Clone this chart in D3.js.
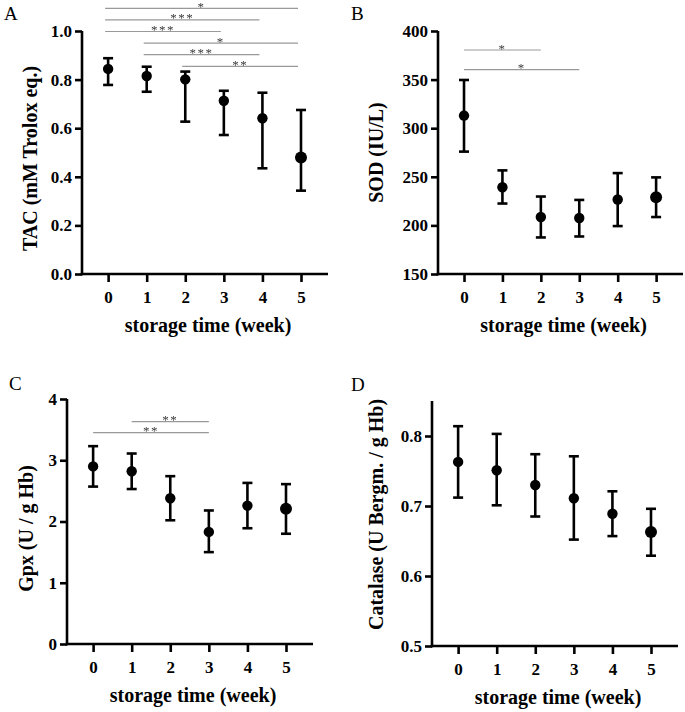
<!DOCTYPE html>
<html><head><meta charset="utf-8">
<script src="https://cdn.jsdelivr.net/npm/d3@7"></script>
<style>
html,body{margin:0;padding:0;background:#fff;}
svg{display:block;}
text{font-family:"Liberation Serif","Times New Roman",serif;}
.sig{filter:grayscale(1);}
</style></head>
<body>
<svg id="chart" width="685" height="712"></svg>
<script>
// ---------- data ----------
const weeks = [0, 1, 2, 3, 4, 5];

const tacMean  = [0.844, 0.815, 0.801, 0.713, 0.641, 0.479];
const tacUpper = [0.888, 0.853, 0.833, 0.754, 0.746, 0.675];
const tacLower = [0.778, 0.750, 0.627, 0.572, 0.435, 0.343];
const tacTicks = [0.0, 0.2, 0.4, 0.6, 0.8, 1.0];
const tacSig = [[0, 5, "*"], [0, 4, "***"], [0, 3, "***"], [1, 5, "*"], [1, 4, "***"], [2, 5, "**"]];

const sodMean  = [313.0, 239.3, 208.6, 207.6, 226.6, 229.0];
const sodUpper = [349.6, 256.6, 229.7, 226.2, 253.8, 249.4];
const sodLower = [275.9, 222.5, 187.6, 188.6, 199.3, 208.6];
const sodTicks = [150, 200, 250, 300, 350, 400];
const sodSig = [[0, 2, "*"], [0, 3, "*"]];

const gpxMean  = [2.90, 2.82, 2.38, 1.83, 2.26, 2.21];
const gpxUpper = [3.23, 3.11, 2.74, 2.18, 2.63, 2.61];
const gpxLower = [2.57, 2.53, 2.02, 1.50, 1.89, 1.80];
const gpxTicks = [0, 1, 2, 3, 4];
const gpxSig = [[1, 3, "**"], [0, 3, "**"]];

const catMean  = [0.763, 0.751, 0.730, 0.711, 0.689, 0.663];
const catUpper = [0.814, 0.803, 0.774, 0.771, 0.721, 0.696];
const catLower = [0.712, 0.701, 0.685, 0.652, 0.657, 0.629];
const catTicks = [0.5, 0.6, 0.7, 0.8];

const xTitle = "storage time (week)";

// ---------- layout ----------
const panels = [
  {letter: "A", lx: 4, ly: 20, x0: 82, x1: 328, yb: 274, yt: 31, dom: [0, 1.0],
   mean: tacMean, up: tacUpper, lo: tacLower, ticks: tacTicks, fmt: d3.format(".1f"),
   title: "TAC (mM Trolox eq.)", tx: 37, tyOff: 6, sig: tacSig, sigY: 8.3, sigGap: 11.6, sigShift: -3},
  {letter: "B", lx: 351, ly: 20, x0: 438, x1: 683, yb: 274, yt: 31, dom: [150, 400],
   mean: sodMean, up: sodUpper, lo: sodLower, ticks: sodTicks, fmt: d3.format("d"),
   title: "SOD (IU/L)", tx: 383, tyOff: 0, sig: sodSig, sigY: 50, sigGap: 19.7, sigShift: 0},
  {letter: "C", lx: 9, ly: 390, x0: 67, x1: 313, yb: 644, yt: 399, dom: [0, 4],
   mean: gpxMean, up: gpxUpper, lo: gpxLower, ticks: gpxTicks, fmt: d3.format("d"),
   title: "Gpx (U / g Hb)", tx: 33, tyOff: 7, sig: gpxSig, sigY: 421.7, sigGap: 11, sigShift: 0},
  {letter: "D", lx: 351, ly: 391, x0: 432, x1: 678, yb: 646, yt: 401, dom: [0.5, 0.85],
   mean: catMean, up: catUpper, lo: catLower, ticks: catTicks, fmt: d3.format(".1f"),
   title: "Catalase (U Bergm. / g Hb)", tx: 383, tyOff: -9, sig: [], sigY: 0, sigGap: 0, sigShift: 0}
];

const svg = d3.select("#chart");
const AXW = 2.6;

panels.forEach(p => {
  const g = svg.append("g");
  const x = d3.scaleLinear().domain([-0.677, 5.7]).range([p.x0, p.x1]);
  const y = d3.scaleLinear().domain(p.dom).range([p.yb, p.yt]);

  // panel letter
  g.append("text").attr("x", p.lx).attr("y", p.ly)
    .attr("font-size", 19).attr("fill", "#000").text(p.letter);

  // y axis
  const ya = g.append("g").attr("transform", `translate(${p.x0},0)`)
    .call(d3.axisLeft(y).tickValues(p.ticks).tickFormat(p.fmt).tickSize(7).tickPadding(3));
  ya.select(".domain").attr("stroke", "#000").attr("stroke-width", AXW)
    .attr("d", `M0,${p.yb + AXW/2}V${p.yt}`);
  ya.selectAll(".tick line").attr("stroke", "#000").attr("stroke-width", AXW);
  ya.selectAll(".tick text").attr("font-family", "Liberation Serif, serif")
    .attr("font-weight", "bold").attr("font-size", 17).attr("fill", "#000");

  // x axis
  const xa = g.append("g").attr("transform", `translate(0,${p.yb})`)
    .call(d3.axisBottom(x).tickValues(weeks).tickFormat(d3.format("d")).tickSize(8).tickPadding(9));
  xa.select(".domain").attr("stroke", "#000").attr("stroke-width", AXW)
    .attr("d", `M${p.x0 - AXW/2},0H${p.x1}`);
  xa.selectAll(".tick line").attr("stroke", "#000").attr("stroke-width", AXW);
  xa.selectAll(".tick text").attr("font-family", "Liberation Serif, serif")
    .attr("font-weight", "bold").attr("font-size", 17).attr("fill", "#000");

  // axis titles
  g.append("text").attr("x", (p.x0 + p.x1) / 2 + 3).attr("y", p.yb + 58)
    .attr("text-anchor", "middle").attr("font-weight", "bold").attr("font-size", 20)
    .text(xTitle);
  g.append("text")
    .attr("transform", `translate(${p.tx},${(p.yb + p.yt) / 2 + p.tyOff}) rotate(-90)`)
    .attr("text-anchor", "middle").attr("font-weight", "bold").attr("font-size", 20)
    .text(p.title);

  // error bars
  const eb = g.append("g");
  weeks.forEach((w, i) => {
    eb.append("line").attr("x1", x(w)).attr("x2", x(w))
      .attr("y1", y(p.up[i])).attr("y2", y(p.lo[i]))
      .attr("stroke", "#000").attr("stroke-width", AXW);
    [p.up[i], p.lo[i]].forEach(v => {
      eb.append("line").attr("x1", x(w) - 5).attr("x2", x(w) + 5)
        .attr("y1", y(v)).attr("y2", y(v))
        .attr("stroke", "#000").attr("stroke-width", AXW);
    });
  });
  g.append("g").selectAll("circle").data(weeks).join("circle")
    .attr("cx", d => x(d)).attr("cy", (d, i) => y(p.mean[i]))
    .attr("r", (d, i) => i === weeks.length - 1 ? 6 : 5.2)
    .attr("fill", "#000");

  // significance brackets
  const sg = g.append("g").attr("class", "sig");
  p.sig.forEach((s, k) => {
    const ly = p.sigY + k * p.sigGap;
    const xa1 = x(s[0]) + p.sigShift, xb1 = x(s[1]) + p.sigShift;
    sg.append("line").attr("x1", xa1).attr("x2", xb1).attr("y1", ly).attr("y2", ly)
      .attr("stroke", "#999").attr("stroke-width", 1.2);
    sg.append("text").attr("x", (xa1 + xb1) / 2).attr("y", ly + 2.5)
      .attr("text-anchor", "middle").attr("font-size", 13).attr("fill", "#3a3a3a")
      .attr("letter-spacing", 1.5).text(s[2]);
  });
});
</script>
</body></html>
